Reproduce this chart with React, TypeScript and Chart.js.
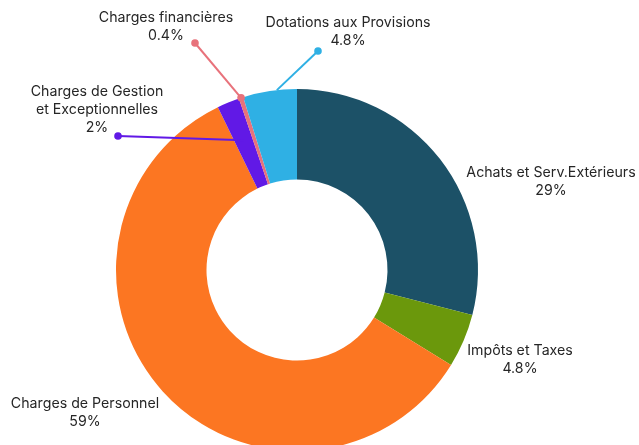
import React, { useEffect, useRef } from "react";
import { Chart, registerables } from "chart.js";

Chart.register(...registerables);

const categories = [
  "Achats et Serv.Extérieurs",
  "Impôts et Taxes",
  "Charges de Personnel",
  "Charges de Gestion\net Exceptionnelles",
  "Charges financières",
  "Dotations aux Provisions",
];
const values = [29, 4.8, 59, 2, 0.4, 4.8];
const percentLabels = ["29%", "4.8%", "59%", "2%", "0.4%", "4.8%"];
const colors = ["#1c5167", "#6b980c", "#fc7622", "#6119e6", "#e8727b", "#2fb0e4"];

// label block centre offsets from the doughnut centre (layout only)
const labelOffsets = [
  [254, -88],
  [223, 90],
  [-212, 143],
  [-200, -160],
  [-131, -243],
  [51, -238],
];
// leader lines: [index, angleFrac within slice, radius frac (0 inner..1 outer), dotDx, dotDy, startDot]
const leaders: [number, number, number, number, number, boolean][] = [
  [3, 0.5, 0.55, -179, -134, false],
  [4, 0.5, 1.0, -102, -227, true],
  [5, 0.63, 1.0, 21, -219, false],
];

const FONT = '14.2px Inter, "Noto Sans", sans-serif';

const labelPlugin = {
  id: "outerLabels",
  afterDatasetsDraw(chart: any) {
    const ctx = chart.ctx;
    const meta = chart.getDatasetMeta(0);
    const arc0 = meta.data[0];
    const cx = arc0.x;
    const cy = arc0.y;
    ctx.save();
    // leaders
    leaders.forEach(([i, af, rf, ddx, ddy, startDot]) => {
      const a = meta.data[i];
      const ang = a.startAngle + (a.endAngle - a.startAngle) * af;
      const r = a.innerRadius + (a.outerRadius - a.innerRadius) * rf;
      const sx = cx + Math.cos(ang) * r;
      const sy = cy + Math.sin(ang) * r;
      const ex = cx + ddx;
      const ey = cy + ddy;
      ctx.strokeStyle = colors[i];
      ctx.fillStyle = colors[i];
      ctx.lineWidth = 2;
      ctx.beginPath();
      ctx.moveTo(sx, sy);
      ctx.lineTo(ex, ey);
      ctx.stroke();
      ctx.beginPath();
      ctx.arc(ex, ey, 3.8, 0, Math.PI * 2);
      ctx.fill();
      if (startDot) {
        ctx.beginPath();
        ctx.arc(sx, sy, 3.8, 0, Math.PI * 2);
        ctx.fill();
      }
    });
    // labels
    ctx.font = FONT;
    ctx.fillStyle = "#262626";
    ctx.textAlign = "center";
    ctx.textBaseline = "middle";
    const lh = 18;
    categories.forEach((name, i) => {
      const lines = name.split("\n").concat([percentLabels[i]]);
      const [dx, dy] = labelOffsets[i];
      const x = cx + dx;
      const top = cy + dy - ((lines.length - 1) * lh) / 2;
      lines.forEach((t, k) => ctx.fillText(t, x, top + k * lh));
    });
    ctx.restore();
  },
};

export default function App() {
  const ref = useRef<HTMLCanvasElement>(null);
  useEffect(() => {
    if (!ref.current) return;
    const chart = new Chart(ref.current, {
      type: "doughnut",
      data: {
        labels: categories,
        datasets: [
          {
            data: values,
            backgroundColor: colors,
            borderWidth: 0,
          },
        ],
      },
      options: {
        responsive: false,
        animation: false,
        cutout: "50%",
        layout: { padding: { top: 89, bottom: 19, left: 100, right: 145 } },
        plugins: {
          legend: { display: false },
          tooltip: { enabled: false },
        },
      },
      plugins: [labelPlugin],
    });
    return () => chart.destroy();
  }, []);
  return (
    <div
      style={{
        position: "fixed",
        left: 0,
        top: 0,
        width: 639,
        height: 445,
        overflow: "hidden",
        background: "#fff",
      }}
    >
      <canvas ref={ref} width={639} height={470} />
    </div>
  );
}
